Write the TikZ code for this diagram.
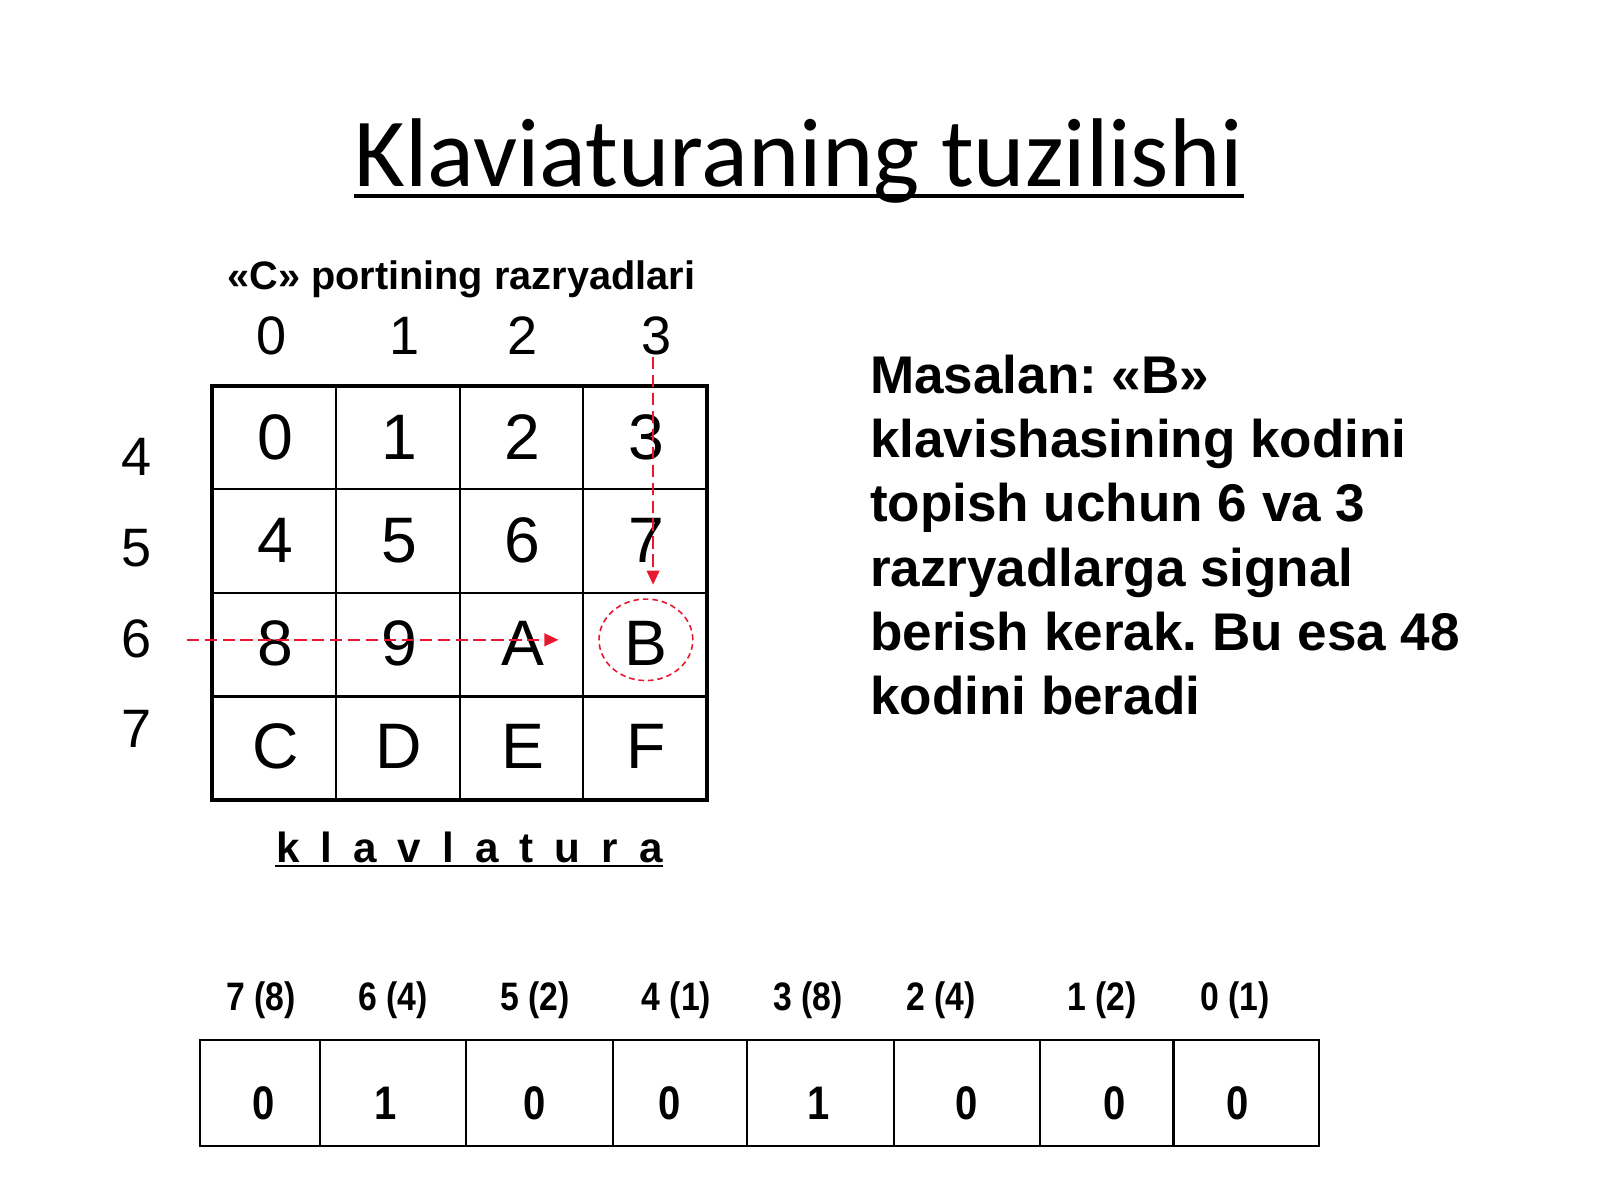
\documentclass[tikz,border=0pt]{standalone}
\usepackage{fontspec}
\setmainfont{Liberation Sans}
\newfontfamily\titlefont{Carlito}
\usetikzlibrary{arrows.meta,shapes.geometric}
\definecolor{sigred}{RGB}{232,24,48}
\newcommand{\narrow}[1]{\scalebox{0.85}[1]{#1}}
\frenchspacing
\tikzset{
  cell/.style={inner sep=0pt,anchor=base,font=\fontsize{18.3}{22}\selectfont},
  idx/.style={inner sep=0pt,anchor=base,font=\fontsize{15.4}{18}\selectfont},
  bitlbl/.style={inner sep=0pt,anchor=base,font=\bfseries\fontsize{11.3}{13}\selectfont},
  bitval/.style={inner sep=0pt,anchor=base,font=\bfseries\fontsize{13.4}{16}\selectfont},
  sig/.style={sigred,line width=0.5pt,dash pattern=on 3.5pt off 1.6pt,
    -{Triangle[length=4pt,width=3.6pt]}},
}
\begin{document}
\begin{tikzpicture}[x=0.010204cm,y=-0.010204cm]
    \useasboundingbox (0,0) rectangle (1568,1176);

    \node[inner sep=0pt,anchor=base,font=\titlefont\fontsize{27.8}{34}\selectfont] (title) at (783,183) {Klaviaturaning tuzilishi};
    \draw[line width=1.2pt] ([yshift=-2.7pt]title.base west) -- ([yshift=-2.7pt]title.base east);

    % port C bits
    \node[inner sep=0pt,anchor=base,font=\bfseries\fontsize{11.3}{13}\selectfont] (porttitle) at (452,284) {«C» portining razryadlari};
    \foreach \n/\x in {0/266,1/396,2/512,3/643}
        \node[idx] (c\n) at (\x,347) {\n};
    \foreach \n/\y in {4/466,5/555,6/644,7/733}
        \node[idx] (r\n) at (134,\y) {\n};

    % keyboard matrix
    \foreach \i in {1,2,3}
        \draw[line width=0.6pt] (208+121.25*\i,378) -- (208+121.25*\i,784);
    \foreach \j in {1,2,3}
        \draw[line width=0.6pt] (208,378+101.5*\j) -- (693,378+101.5*\j);
    \draw[line width=1.2pt] (208,378) rectangle (693,784);
    \foreach \t [count=\k from 0] in {0,1,2,3,4,5,6,7,8,9,A,B,C,D,E,F}
        \node[cell] (k\t) at ({270+121*mod(\k,4)},{450+101*floor(\k/4)}) {\t};

    \node[draw=sigred,ellipse,inner sep=0pt,minimum width=26.7pt,minimum height=23.2pt,
        line width=0.45pt,dash pattern=on 1.6pt off 1.1pt] (bmark) at (633,627) {};
    \coordinate (rowin) at (183,627);
    \coordinate (colin) at (640,350);
    \coordinate (colout) at (640,573);
    \draw[sig] (rowin) -- ([xshift=-11.3pt]bmark.west);
    \draw[sig] (colin) -- (colout);

    \node[inner sep=0pt,anchor=base,font=\bfseries\fontsize{12}{14}\selectfont] (klav) at (460,845) {\spaceskip=0.5em k l a v l a t u r a};
    \draw[line width=0.6pt] ([yshift=-1pt]klav.base west) -- ([yshift=-1pt]klav.base east);

    \node[inner sep=0pt,anchor=north west,align=left,font=\bfseries\fontsize{15.1}{18.3}\selectfont] (note) at (852,347)
        {Masalan: «B»\\klavishasining kodini\\topish uchun 6 va 3\\razryadlarga signal\\berish kerak. Bu esa 48\\kodini beradi};

    % output byte
    \foreach \n/\l/\x in {7/8/256,6/4/385,5/2/524,4/1/663,3/8/792,2/4/922,1/2/1080,0/1/1210}
        \node[bitlbl] (b\n) at (\x,990) {\narrow{\n\ (\l)}};
    \draw[line width=0.6pt] (196,1019) rectangle (1293,1123);
    \foreach \x in {314,457,601,732,876,1019,1150}
        \draw[line width=0.6pt] (\x,1019) -- (\x,1123);
    \foreach \v/\x [count=\k] in {0/258,1/378,0/524,0/656,1/802,0/947,0/1092,0/1213}
        \node[bitval] (v\k) at (\x,1097) {\narrow{\v}};
\end{tikzpicture}
\end{document}
